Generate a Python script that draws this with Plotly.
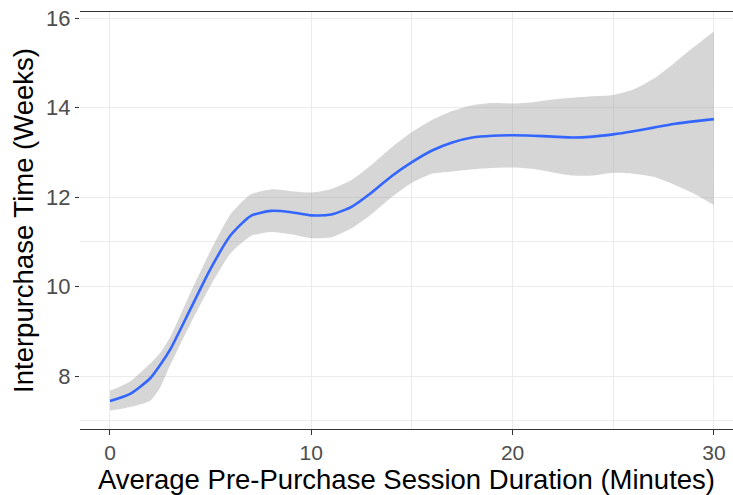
import plotly.graph_objects as go

# Smoothed fit of interpurchase time vs. session duration, with its confidence band
duration_min = [0, 1, 2, 2.5, 3, 4, 5, 6, 7, 8, 9, 10, 11, 12, 13, 14, 15, 16, 17, 18, 19, 20,
                21, 22, 23, 24, 25, 26, 27, 28, 29, 30]
fit_weeks = [7.44, 7.60, 7.95, 8.25, 8.60, 9.50, 10.40, 11.15, 11.58, 11.69, 11.66, 11.59,
             11.61, 11.78, 12.10, 12.47, 12.78, 13.04, 13.22, 13.33, 13.37, 13.38,
             13.37, 13.35, 13.33, 13.35, 13.40, 13.47, 13.55, 13.63, 13.69, 13.74]
upper_weeks = [7.67, 7.88, 8.28, 8.52, 8.88, 9.86, 10.80, 11.62, 12.06, 12.17, 12.13, 12.10,
               12.18, 12.38, 12.72, 13.11, 13.45, 13.72, 13.92, 14.05, 14.10, 14.09,
               14.12, 14.18, 14.22, 14.25, 14.28, 14.40, 14.64, 14.98, 15.35, 15.70]
lower_weeks = [7.23, 7.31, 7.45, 7.75, 8.25, 9.17, 10.02, 10.75, 11.13, 11.22, 11.17, 11.08,
               11.10, 11.30, 11.62, 12.00, 12.32, 12.52, 12.57, 12.62, 12.65, 12.66,
               12.63, 12.55, 12.48, 12.48, 12.54, 12.52, 12.45, 12.28, 12.08, 11.82]

x_ticks = [0, 10, 20, 30]
y_ticks = [8, 10, 12, 14, 16]
x_minor = [15, 25]
y_minor = [7, 11]

FONT = "Liberation Sans, Arial, sans-serif"
SMOOTH = 0.6

fig = go.Figure()

# confidence band: lower edge, then upper edge filled down to it
fig.add_trace(go.Scatter(
    x=duration_min,
    y=lower_weeks,
    mode="lines",
    line=dict(width=0, shape="spline", smoothing=SMOOTH),
    hoverinfo="skip",
    showlegend=False,
))
fig.add_trace(go.Scatter(
    x=duration_min,
    y=upper_weeks,
    mode="lines",
    fill="tonexty",
    fillcolor="rgba(153,153,153,0.4)",
    line=dict(width=0, shape="spline", smoothing=SMOOTH),
    hoverinfo="skip",
    showlegend=False,
))

# fitted curve
fig.add_trace(go.Scatter(
    x=duration_min,
    y=fit_weeks,
    mode="lines",
    line=dict(color="#3366FF", width=2.6, shape="spline", smoothing=SMOOTH),
    showlegend=False,
))

fig.update_layout(
    width=733,
    height=495,
    margin=dict(l=80, r=0, t=12, b=66, autoexpand=False),
    paper_bgcolor="white",
    plot_bgcolor="white",
    font=dict(family=FONT),
)

fig.update_xaxes(
    range=[-1.49, 30.95],
    tickmode="array",
    tickvals=x_ticks,
    ticktext=[str(v) for v in x_ticks],
    ticks="outside",
    ticklen=5,
    tickwidth=1.3,
    tickcolor="#333333",
    tickfont=dict(size=21, color="#4D4D4D", family=FONT),
    showgrid=True,
    gridcolor="#EBEBEB",
    gridwidth=1.2,
    minor=dict(tickmode="array", tickvals=x_minor, showgrid=True,
               gridcolor="#EBEBEB", gridwidth=1.2, ticks=""),
    showline=True,
    mirror=True,
    linecolor="#333333",
    linewidth=1.3,
    zeroline=False,
    automargin=False,
    title=dict(text="Average Pre-Purchase Session Duration (Minutes)",
               font=dict(size=27.5, color="black", family=FONT), standoff=4),
)

fig.update_yaxes(
    range=[6.816, 16.134],
    tickmode="array",
    tickvals=y_ticks,
    ticktext=[str(v) for v in y_ticks],
    ticks="outside",
    ticklen=4,
    tickwidth=1.3,
    tickcolor="#333333",
    tickfont=dict(size=22, color="#4D4D4D", family=FONT),
    showgrid=True,
    gridcolor="#EBEBEB",
    gridwidth=1.2,
    minor=dict(tickmode="array", tickvals=y_minor, showgrid=True,
               gridcolor="#EBEBEB", gridwidth=1.2, ticks=""),
    showline=False,
    zeroline=False,
    automargin=False,
    title=dict(text="Interpurchase Time (Weeks)",
               font=dict(size=27.5, color="black", family=FONT), standoff=4),
)

fig.write_html("out.html")
